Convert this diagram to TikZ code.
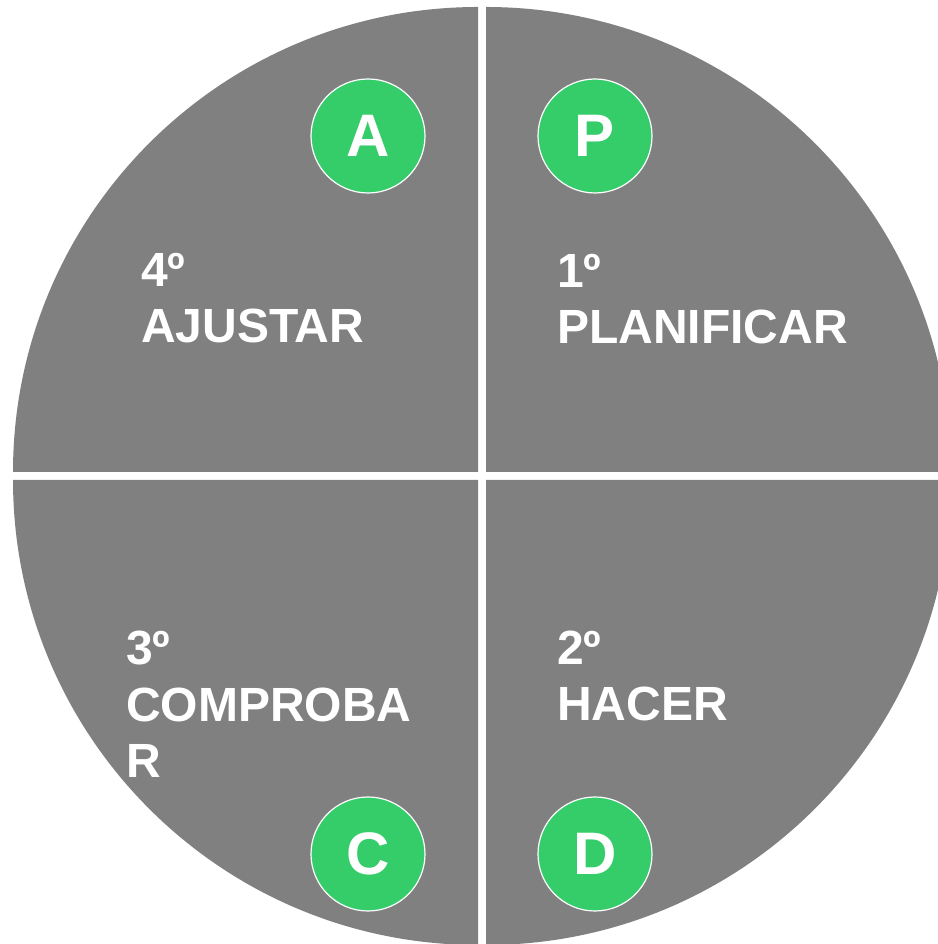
\documentclass[tikz,border=0pt]{standalone}
\usepackage{fontspec}
\setmainfont{Liberation Sans}
\usetikzlibrary{positioning}

\definecolor{quadgray}{RGB}{128,128,128}
\definecolor{phasegreen}{RGB}{53,204,106}

\tikzset{
  quadrant/.style={fill=quadgray},
  phase/.style={circle, fill=phasegreen, draw=white, line width=1.2pt,
    minimum size=114pt, inner sep=0pt, text=white,
    font=\fontsize{60}{66}\selectfont\bfseries},
  stagelabel/.style={anchor=base west, inner sep=0pt, align=left, text=white,
    font=\fontsize{48}{56.5}\selectfont\bfseries}
}

\begin{document}
\begin{tikzpicture}[x=1pt,y=1pt]
  % Fix the page size
  \useasboundingbox (0,0) rectangle (937,944);
  % Corners of the four quarters (white gap between them)
  \coordinate (tl) at (478,472);
  \coordinate (tr) at (486,472);
  \coordinate (bl) at (478,464);
  \coordinate (br) at (486,464);
  % The four quarters of the circle
  \fill[quadrant] (tl) -- ++(-465pt,0) arc[start angle=180, end angle=90, radius=465pt] -- cycle;
  \fill[quadrant] (tr) -- ++(0,465pt) arc[start angle=90, end angle=0, radius=465pt] -- cycle;
  \fill[quadrant] (br) -- ++(465pt,0) arc[start angle=0, end angle=-90, radius=465pt] -- cycle;
  \fill[quadrant] (bl) -- ++(0,-465pt) arc[start angle=270, end angle=180, radius=465pt] -- cycle;
  % Letters of the cycle
  \node[phase] (p) at (595,808) {P};
  \node[phase] (a) at (368,808) {A};
  \node[phase] (c) at (368,90) {C};
  \node[phase] (d) at (595,90) {D};
  % Names of the steps (anchored at the last line)
  \node[stagelabel] (plan) at (557,600) {1º\\PLANIFICAR};
  \node[stagelabel] (hacer) at (557,223) {2º\\HACER};
  \node[stagelabel] (comp) at (126,166) {3º\\COMPROBA\\R};
  \node[stagelabel] (ajus) at (141,601) {4º\\AJUSTAR};
\end{tikzpicture}
\end{document}
